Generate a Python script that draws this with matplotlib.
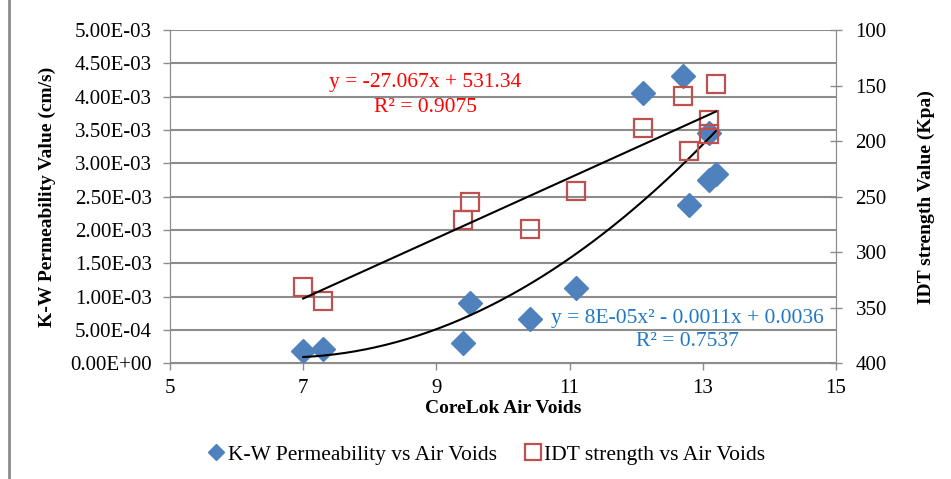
import numpy as np
import matplotlib.pyplot as plt
from matplotlib.lines import Line2D

# CoreLok air voids (%)
kw_air_voids = [7.0, 7.3, 9.4, 9.5, 10.4, 11.1, 12.1, 12.7, 12.8, 13.1, 13.1, 13.2]
# K-W permeability (cm/s), same order
kw_perm = [0.19e-3, 0.21e-3, 0.31e-3, 0.90e-3, 0.66e-3, 1.13e-3,
           4.06e-3, 4.31e-3, 2.37e-3, 3.46e-3, 2.75e-3, 2.84e-3]
# IDT strength (kPa)
idt_air_voids = [7.0, 7.3, 9.4, 9.5, 10.4, 11.1, 12.1, 12.7, 12.8, 13.1, 13.1, 13.2]
idt_strength = [331, 344, 271, 255, 279, 245, 188, 159, 209, 181, 194, 149]

left_ticks = np.arange(0, 5.01e-3, 0.5e-3)
right_ticks = [100, 150, 200, 250, 300, 350, 400]
x_ticks = [5, 7, 9, 11, 13, 15]

BLUE = '#4F81BD'
RED = '#C0504D'
GRID = '#8C8C8C'

plt.rcParams['font.family'] = ['Liberation Serif', 'DejaVu Serif']

W, H = 951, 479
fig = plt.figure(figsize=(W / 100, H / 100), dpi=100)
ax = fig.add_axes([170 / W, 1 - 363.3 / H, (836 - 170) / W, (363.3 - 30) / H])
ax2 = ax.twinx()

# permeability (left axis)
ax.plot(kw_air_voids, kw_perm, linestyle='none', marker='D', markersize=12,
        color=BLUE, zorder=3)
# IDT strength (right axis, inverted)
ax2.plot(idt_air_voids, idt_strength, linestyle='none', marker='s', markersize=13,
         markerfacecolor='none', markeredgecolor=RED, markeredgewidth=1.6, zorder=3)

# trend lines (fitted from the data, as Excel does)
xs = np.linspace(min(kw_air_voids), max(kw_air_voids), 200)
quad = np.polyfit(kw_air_voids, kw_perm, 2)
ax.plot(xs, np.polyval(quad, xs), color='black', linewidth=1.5, zorder=4)
xs2 = np.linspace(min(idt_air_voids), max(idt_air_voids), 2)
lin = np.polyfit(idt_air_voids, idt_strength, 1)
ax2.plot(xs2, np.polyval(lin, xs2), color='black', linewidth=1.5, zorder=4)

ax.set_xlim(5, 15)
ax.set_ylim(0, 5e-3)
ax.set_xticks(x_ticks)
ax.set_yticks(left_ticks)
ax.set_yticklabels([f'{v:.2E}' for v in left_ticks])
ax2.set_ylim(400, 100)
ax2.set_yticks(right_ticks)

ax.yaxis.grid(True, color=GRID, linewidth=1.5)
ax.set_axisbelow(True)
for a in (ax, ax2):
    for s in a.spines.values():
        s.set_color(GRID)
    a.spines['top'].set_visible(False)
    a.tick_params(colors='black', labelsize=15, length=5, width=1, color=GRID)
ax.tick_params(axis='y', pad=8)
ax.tick_params(axis='x', pad=6)
ax2.tick_params(axis='y', pad=10, direction='inout', length=8)

ax.set_xlabel('CoreLok Air Voids', fontsize=14, fontweight='bold', labelpad=2)
ax.set_ylabel('K-W Permeability Value (cm/s)', fontsize=14, fontweight='bold', labelpad=10)
ax2.set_ylabel('IDT strength Value (Kpa)', fontsize=14, fontweight='bold', labelpad=22)

# trendline labels
fig.text(425 / W, 1 - 83 / H, 'y = -27.067x + 531.34', color='#FF0000',
         fontsize=15.5, ha='center', va='center')
fig.text(425 / W, 1 - 107 / H, 'R² = 0.9075', color='#FF0000',
         fontsize=15.5, ha='center', va='center')
fig.text(687 / W, 1 - 318 / H, 'y = 8E-05x² - 0.0011x + 0.0036', color='#1F78C4',
         fontsize=15.5, ha='center', va='center')
fig.text(687 / W, 1 - 342 / H, 'R² = 0.7537', color='#1F78C4',
         fontsize=15.5, ha='center', va='center')

handles = [
    Line2D([], [], linestyle='none', marker='D', markersize=8, color=BLUE),
    Line2D([], [], linestyle='none', marker='s', markersize=11, markerfacecolor='none',
           markeredgecolor=RED, markeredgewidth=1.6),
]
fig.legend(handles, ['K-W Permeability vs Air Voids', 'IDT strength vs Air Voids'],
           loc='center', bbox_to_anchor=(486 / W, 1 - 455 / H), ncol=2, frameon=False,
           fontsize=15.5, handletextpad=0.1, columnspacing=1.2, handlelength=0.9)

# outer chart frame (left edge only visible)
fig.add_artist(Line2D([9 / W, 9 / W], [0, 1], color=GRID, linewidth=2,
                      transform=fig.transFigure))

fig.savefig('out.png', dpi=100)
